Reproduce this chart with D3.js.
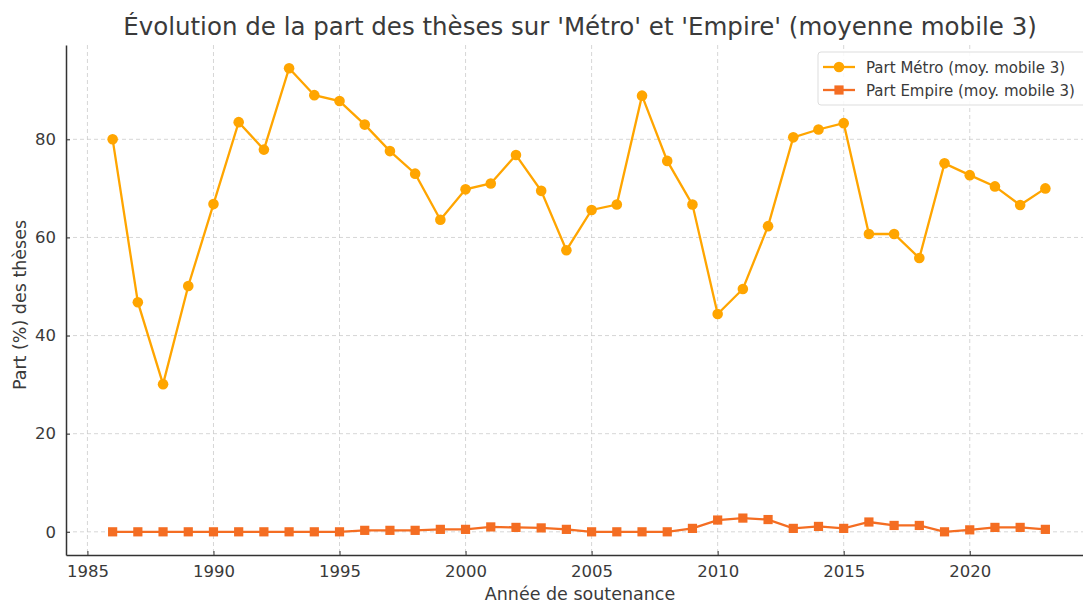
<!DOCTYPE html>
<html>
<head>
    <meta charset="utf-8">
    <title>part-metro-empire</title>
    <style>
        body { margin: 0; background: #fff; }
        text { font-family: "DejaVu Sans", sans-serif; fill: #3a3a3a; }
    </style>
</head>
<body>
    <svg width="1083" height="603"></svg>

    <script src="https://cdn.jsdelivr.net/npm/d3@7"></script>
    <script>

    // annees de soutenance
    var years = [1986, 1987, 1988, 1989, 1990, 1991, 1992, 1993, 1994, 1995,
        1996, 1997, 1998, 1999, 2000, 2001, 2002, 2003, 2004, 2005,
        2006, 2007, 2008, 2009, 2010, 2011, 2012, 2013, 2014, 2015,
        2016, 2017, 2018, 2019, 2020, 2021, 2022, 2023]

    // part metro (moy. mobile 3)
    var metro = [80, 46.8, 30.1, 50.1, 66.8, 83.5, 77.9, 94.5, 89, 87.8,
        83, 77.6, 73, 63.6, 69.8, 71, 76.8, 69.5, 57.4, 65.6,
        66.7, 88.9, 75.6, 66.7, 44.4, 49.5, 62.3, 80.4, 82, 83.3,
        60.7, 60.7, 55.8, 75.1, 72.7, 70.4, 66.6, 70]

    // part empire (moy. mobile 3)
    var empire = [0, 0, 0, 0, 0, 0, 0, 0, 0, 0,
        0.3, 0.3, 0.3, 0.5, 0.5, 1.0, 0.9, 0.8, 0.5, 0,
        0, 0, 0, 0.7, 2.4, 2.8, 2.5, 0.7, 1.1, 0.7,
        2.0, 1.3, 1.3, 0, 0.4, 0.9, 0.9, 0.5]

    var xTicks = [1985, 1990, 1995, 2000, 2005, 2010, 2015, 2020]
    var yTicks = [0, 20, 40, 60, 80]

    var seriesNames = ['Part Métro (moy. mobile 3)', 'Part Empire (moy. mobile 3)']
    var colors = ['#ffa500', '#f46d22']

    var svg = d3.select('svg')
    // plot box (right edge runs past the picture, like the reference)
    var pLeft = 66, pRight = 1092, pTop = 45, pBottom = 555

    var x = d3.scaleLinear().domain([1984.15, 2024.85]).range([pLeft, pRight])
    var y = d3.scaleLinear().domain([-4.725, 99.225]).range([pBottom, pTop])

    // grid
    svg.append('g').selectAll('line').data(xTicks).enter().append('line')
        .attr('x1', function(d){ return x(d) }).attr('x2', function(d){ return x(d) })
        .attr('y1', pTop).attr('y2', pBottom)
        .attr('stroke', '#ccc').attr('stroke-dasharray', '4,3').attr('stroke-width', 0.8)
    svg.append('g').selectAll('line').data(yTicks).enter().append('line')
        .attr('x1', pLeft).attr('x2', pRight)
        .attr('y1', function(d){ return y(d) }).attr('y2', function(d){ return y(d) })
        .attr('stroke', '#ccc').attr('stroke-dasharray', '4,3').attr('stroke-width', 0.8)

    // axes
    var xAxis = svg.append('g').attr('transform', 'translate(0,' + pBottom + ')')
        .call(d3.axisBottom(x).tickValues(xTicks).tickFormat(d3.format('d')).tickSizeInner(-4).tickSizeOuter(0).tickPadding(10))
    var yAxis = svg.append('g').attr('transform', 'translate(' + pLeft + ',0)')
        .call(d3.axisLeft(y).tickValues(yTicks).tickSizeInner(-4).tickSizeOuter(0).tickPadding(10))
    ;[xAxis, yAxis].forEach(function(a){
        a.select('.domain').attr('stroke', '#333').attr('stroke-width', 1.5)
        a.selectAll('.tick line').attr('stroke', '#333')
        a.selectAll('.tick text').style('font-size', '16.5px').style('font-family', 'DejaVu Sans').attr('fill', '#3a3a3a')
    })

    // lines + markers
    var line = d3.line().x(function(d){ return x(d[0]) }).y(function(d){ return y(d[1]) })
    var metroData = years.map(function(d, i){ return [d, metro[i]] })
    var empireData = years.map(function(d, i){ return [d, empire[i]] })

    svg.append('path').datum(metroData).attr('d', line)
        .attr('fill', 'none').attr('stroke', colors[0]).attr('stroke-width', 2.3)
    svg.append('g').selectAll('circle').data(metroData).enter().append('circle')
        .attr('cx', function(d){ return x(d[0]) })
        .attr('cy', function(d){ return y(d[1]) })
        .attr('r', 5.3)
        .attr('fill', colors[0])

    svg.append('path').datum(empireData).attr('d', line)
        .attr('fill', 'none').attr('stroke', colors[1]).attr('stroke-width', 2.3)
    svg.append('g').selectAll('rect').data(empireData).enter().append('rect')
        .attr('x', function(d){ return x(d[0]) - 4.6 })
        .attr('y', function(d){ return y(d[1]) - 4.6 })
        .attr('width', 9.2).attr('height', 9.2)
        .attr('fill', colors[1])

    // title and labels
    svg.append('text').attr('x', 580).attr('y', 35).attr('text-anchor', 'middle')
        .style('font-size', '24.5px')
        .text("Évolution de la part des thèses sur 'Métro' et 'Empire' (moyenne mobile 3)")
    svg.append('text').attr('x', 580).attr('y', 600).attr('text-anchor', 'middle')
        .style('font-size', '17.5px').text('Année de soutenance')
    svg.append('text').attr('transform', 'translate(26,305) rotate(-90)').attr('text-anchor', 'middle')
        .style('font-size', '17.5px').text('Part (%) des thèses')

    // legend
    var lg = svg.append('g').attr('transform', 'translate(818,52)')
    lg.append('rect').attr('x', 0).attr('y', 0).attr('width', 280).attr('height', 53)
        .attr('rx', 3).attr('fill', '#fff').attr('fill-opacity', 0.85)
        .attr('stroke', '#ddd')
    seriesNames.forEach(function(name, i){
        var ly = 15 + i * 23
        lg.append('line').attr('x1', 5).attr('x2', 37).attr('y1', ly).attr('y2', ly)
            .attr('stroke', colors[i]).attr('stroke-width', 2.3)
        if (i === 0) {
            lg.append('circle').attr('cx', 21).attr('cy', ly).attr('r', 5.3).attr('fill', colors[i])
        } else {
            lg.append('rect').attr('x', 16.4).attr('y', ly - 4.6).attr('width', 9.2).attr('height', 9.2).attr('fill', colors[i])
        }
        lg.append('text').attr('x', 48).attr('y', ly + 5.5).style('font-size', '15px').text(name)
    })

    </script>
</body>
</html>
